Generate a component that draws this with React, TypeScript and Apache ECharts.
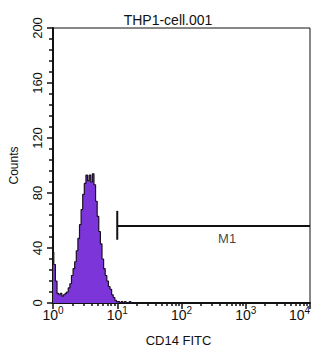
import React, { useEffect, useRef } from "react";
import * as echarts from "echarts";

// Histogram: counts per channel bin (bins evenly spaced in log10 FITC intensity, 40 bins per decade)
const binsPerDecade = 40;
const counts = [
  37, 28, 16, 7, 6, 7, 5, 6, 7, 8,
  11, 14, 20, 25, 30, 38, 47, 57, 68, 79,
  87, 93, 89, 93, 88, 94, 86, 74, 63, 52,
  43, 32, 25, 20, 16, 12, 10, 6, 4, 2,
  1, 1, 0, 1, 0, 1, 0, 0, 1, 0,
  0, 0, 0,
];
// Marker M1 gate (FITC intensity range as log10 decades) and its drawing level
const gateStart = 1; // 10^1
const gateEnd = 4; // 10^4
const gateLevel = 56;
const gateTickLow = 46;
const gateTickHigh = 67;
const gateName = "M1";
const gateLabelPos = 2.71;

const yTicks = [0, 40, 80, 120, 160, 200];

const FONT = "'Liberation Sans', Arial, Helvetica, sans-serif";

export default function App() {
  const ref = useRef<HTMLDivElement>(null);
  useEffect(() => {
    if (!ref.current) return;
    const chart = echarts.init(ref.current, undefined, { renderer: "svg" });
    const histData = counts.map((c, i) => [i / binsPerDecade, c]);
    const minorLogTicks: number[] = [];
    for (let d = 0; d < 4; d++) {
      for (let m = 2; m <= 9; m++) minorLogTicks.push(d + Math.log10(m));
    }
    chart.setOption({
      animation: false,
      title: {
        text: "THP1-cell.001",
        left: 163,
        textAlign: "center",
        top: 8,
        textStyle: { fontFamily: FONT, fontSize: 14, fontWeight: "normal", color: "#111" },
      },
      grid: {
        left: 48,
        right: 13,
        top: 28,
        bottom: 45,
        show: true,
        borderColor: "#111",
        borderWidth: 1,
        backgroundColor: "transparent",
      },
      xAxis: [
        {
          type: "value",
          min: 0,
          max: 4,
          interval: 1,
          name: "CD14 FITC",
          nameLocation: "middle",
          nameGap: 31,
          nameTextStyle: { fontFamily: FONT, fontSize: 13, color: "#111", padding: [0, 0, 0, -6] },
          axisLine: { show: true, lineStyle: { color: "#111", width: 2 } },
          axisTick: { show: true, length: 6, lineStyle: { color: "#111", width: 1.5 } },
          splitLine: { show: false },
          axisLabel: {
            margin: 5,
            alignMaxLabel: "right",
            formatter: (v: number) => `{b|10}{s|${Math.round(v)}}`,
            rich: {
              b: { fontFamily: FONT, fontSize: 14, color: "#111", verticalAlign: "bottom", lineHeight: 14 },
              s: {
                fontFamily: FONT,
                fontSize: 10,
                color: "#111",
                verticalAlign: "bottom",
                lineHeight: 10,
                padding: [0, 0, 7, 0],
              },
            },
          },
        },
        {
          type: "value",
          min: 0,
          max: 4,
          position: "bottom",
          axisLine: { show: false },
          axisLabel: { show: false },
          splitLine: { show: false },
          axisTick: {
            show: true,
            length: 3,
            customValues: minorLogTicks,
            lineStyle: { color: "#111", width: 1.5 },
          },
        },
      ],
      yAxis: {
        type: "value",
        min: 0,
        max: 200,
        interval: 40,
        name: "Counts",
        nameLocation: "middle",
        nameGap: 33,
        nameTextStyle: { fontFamily: FONT, fontSize: 12, color: "#111" },
        axisLine: { show: true, lineStyle: { color: "#111", width: 2 } },
        axisTick: { show: true, length: 6, lineStyle: { color: "#111", width: 1.5 } },
        minorTick: { show: true, splitNumber: 5, length: 4, lineStyle: { color: "#111", width: 1.5 } },
        splitLine: { show: false },
        axisLabel: {
          rotate: 90,
          margin: 9,
          fontFamily: FONT,
          fontSize: 13,
          color: "#111",
          customValues: yTicks,
        },
      },
      series: [
        {
          type: "line",
          data: histData,
          step: "middle",
          symbol: "none",
          lineStyle: { color: "#1a1020", width: 1.2 },
          areaStyle: { color: "#7b35d9", opacity: 1 },
          z: 2,
        },
        {
          type: "line",
          data: [
            [gateStart, gateLevel],
            [gateEnd, gateLevel],
          ],
          symbol: "none",
          lineStyle: { color: "#111", width: 2 },
          z: 3,
        },
        {
          type: "line",
          data: [
            [gateStart, gateTickLow],
            [gateStart, gateTickHigh],
          ],
          symbol: "none",
          lineStyle: { color: "#111", width: 2 },
          z: 3,
        },
        {
          type: "scatter",
          data: [[gateLabelPos, gateLevel]],
          symbolSize: 0,
          label: {
            show: true,
            position: "bottom",
            distance: 6,
            formatter: gateName,
            fontFamily: FONT,
            fontSize: 13,
            color: "#111",
          },
          z: 4,
        },
      ],
    });
    return () => chart.dispose();
  }, []);
  return (
    <div
      ref={ref}
      style={{ position: "absolute", left: 0, top: 0, width: 323, height: 352 }}
    />
  );
}
